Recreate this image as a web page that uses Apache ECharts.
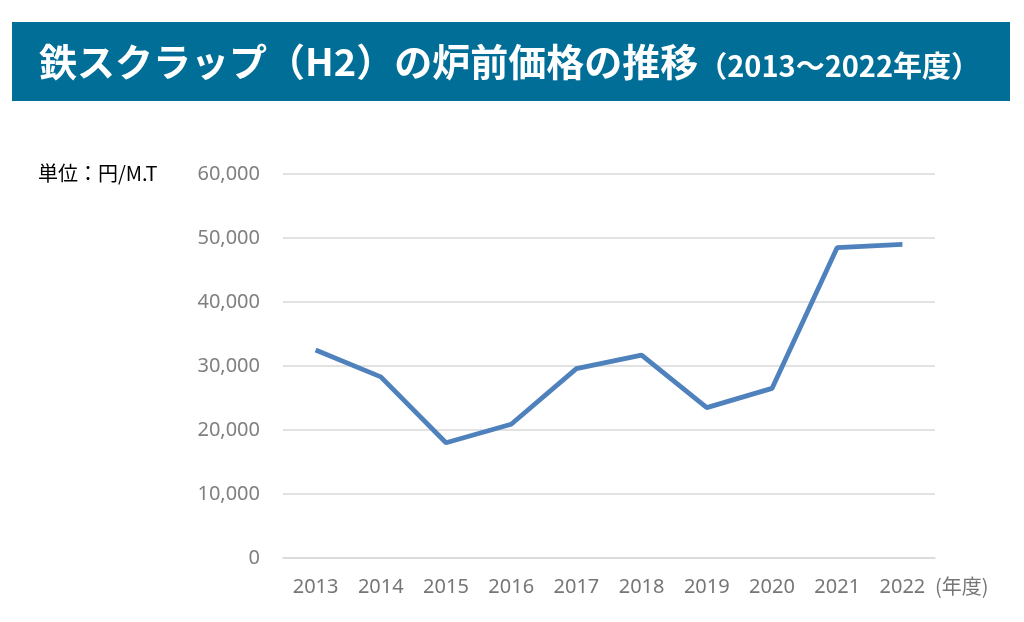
<!DOCTYPE html>
<html>
<head>
<meta charset="utf-8">
<script src="https://cdn.jsdelivr.net/npm/echarts@6/dist/echarts.min.js"></script>
<style>
  html, body { margin: 0; padding: 0; background: #fff; }
  #chart { width: 1024px; height: 622px; }
</style>
</head>
<body>
<div id="chart"></div>
<script>
// data
const years = ['2013', '2014', '2015', '2016', '2017', '2018', '2019', '2020', '2021', '2022'];
const prices = [32500, 28300, 18000, 20900, 29600, 31700, 23500, 26500, 48500, 49000];
const yTicks = [0, 10000, 20000, 30000, 40000, 50000, 60000];

const cjkFont = '"Noto Sans CJK JP", "Noto Sans", sans-serif';
const numFont = '"Noto Sans", "Noto Sans CJK JP", sans-serif';

const chart = echarts.init(document.getElementById('chart'));
chart.setOption({
    animation: false,
    backgroundColor: '#fff',
    graphic: [
        // title banner
        { type: 'rect', left: 12, top: 22, shape: { width: 998, height: 79 }, style: { fill: '#006e97' } },
        {
            type: 'text', x: 39, y: 62,
            style: {
                text: '{a|鉄スクラップ（H2）の炉前価格の推移}{b|（2013～2022年度）}',
                verticalAlign: 'middle',
                rich: {
                    a: { fontSize: 38, fontWeight: 'bold', fill: '#fff', fontFamily: cjkFont },
                    b: { fontSize: 29, fontWeight: 'bold', fill: '#fff', fontFamily: cjkFont, padding: [8, 0, 0, 0] }
                }
            }
        },
        // unit note
        { type: 'text', x: 38, y: 173, style: { text: '単位：円/M.T', fontSize: 20, fill: '#000', fontFamily: cjkFont, verticalAlign: 'middle' } }
    ],
    grid: { left: 283, right: 89, top: 174, bottom: 64 },
    xAxis: {
        type: 'category',
        data: years,
        name: '(年度)',
        nameLocation: 'end',
        nameGap: 0,
        nameTextStyle: { color: '#767676', fontSize: 20, fontFamily: cjkFont, verticalAlign: 'top', padding: [18, 0, 0, 0] },
        axisLine: { lineStyle: { color: '#d9d9d9', width: 1.5 } },
        axisTick: { show: false },
        axisLabel: { color: '#767676', fontSize: 20, fontFamily: numFont, margin: 19 }
    },
    yAxis: {
        type: 'value',
        min: yTicks[0],
        max: yTicks[yTicks.length - 1],
        interval: 10000,
        axisLine: { show: false },
        axisTick: { show: false },
        splitLine: { lineStyle: { color: '#d9d9d9', width: 1.5 } },
        axisLabel: {
            color: '#7f7f7f', fontSize: 20, fontFamily: numFont, margin: 23,
            formatter: v => v.toLocaleString('en-US')
        }
    },
    series: [{
        type: 'line',
        data: prices,
        symbol: 'none',
        lineStyle: { color: '#4f81bd', width: 4.8 }
    }]
});
</script>
</body>
</html>
